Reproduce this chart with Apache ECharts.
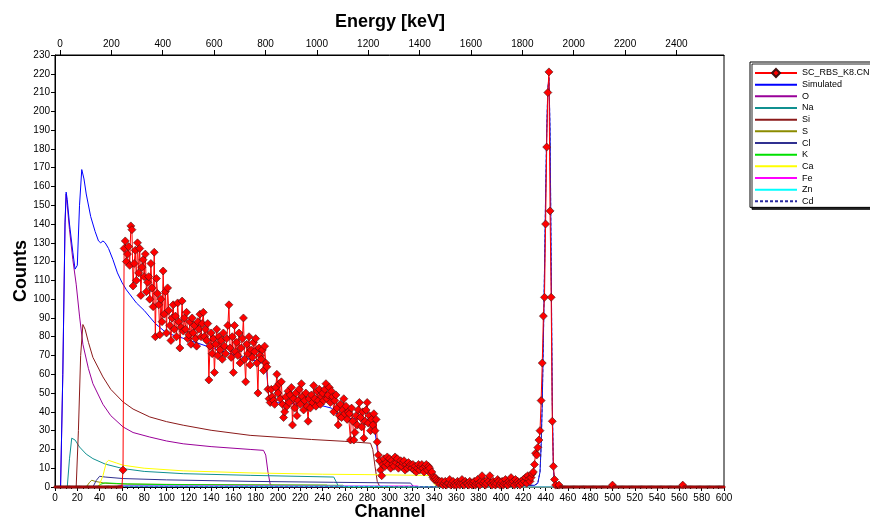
<!DOCTYPE html>
<html>
<head>
<meta charset="utf-8">
<script src="https://cdn.jsdelivr.net/npm/echarts@6/dist/echarts.min.js"></script>
<style>
  html, body { margin: 0; padding: 0; background: #fff; }
  #chart { width: 870px; height: 521px; }
</style>
</head>
<body>
<div id="chart"></div>
<script>
// measured spectrum, one value per channel (0..600)
const rbsCounts = [
  0,0,0,0,0,0,0,0,0,0, 0,0,0,0,0,0,0,0,0,0,
  0,0,0,0,0,0,0,0,0,0, 0,0,0,0,0,0,0,0,0,0,
  0,0,0,0,0,0,0,0,0,0, 0,0,0,0,0,0,0,0,0,0,
  0,9,127,131,120,124,128,118,139,137,          // 60
  107,119,126,110,130,114,127,102,117,121,      // 70
  112,124,104,109,112,100,119,106,96,125,       // 80
  80,111,103,97,81,100,88,115,92,104,           // 90
  82,106,94,86,78,90,97,84,91,80,               // 100
  98,88,74,85,99,83,90,84,93,79,                // 110
  81,88,76,90,82,86,79,75,88,84,                // 120
  92,80,87,93,80,84,78,87,57,75,                // 130
  82,71,79,61,76,84,70,80,73,78,                // 140
  68,82,75,71,79,86,97,74,69,80,                // 150
  61,86,72,77,70,82,66,74,79,90,                // 160
  68,56,76,71,80,65,73,69,77,72,                // 170
  79,66,50,74,70,68,73,62,75,66,                // 180
  64,52,47,45,52,48,46,44,53,60,                // 190
  50,55,47,56,44,37,40,48,43,51,                // 200
  45,49,53,33,47,42,50,38,46,52,                // 210
  44,55,48,41,46,50,43,35,47,42,                // 220
  49,45,54,47,43,51,46,52,44,48,                // 230
  50,46,52,55,47,49,53,45,51,48,                // 240
  40,46,49,42,33,38,44,37,41,47,                // 250
  39,43,36,40,39,25,42,35,25,29,                // 260
  38,33,41,45,37,32,40,26,35,41,                // 270
  45,34,38,30,36,33,39,30,36,24,                // 280
  17,14,9,6,12,15,11,13,16,12,                  // 290
  15,10,14,12,11,16,13,15,10,12,                // 300
  14,11,13,14,9,12,10,13,11,12,                 // 310
  10,12,9,11,8,10,12,9,11,12,                   // 320
  10,8,11,12,9,11,10,7,8,5,                     // 330
  4,5,4,3,2,3,2,3,1,2,                          // 340
  3,1,2,2,4,1,2,3,1,2,                          // 350
  1,3,2,1,2,4,2,1,3,2,                          // 360
  2,1,3,2,1,2,3,1,2,4,                          // 370
  2,1,3,6,2,3,1,2,4,3,                          // 380
  6,2,1,3,2,1,2,4,3,1,                          // 390
  2,3,1,2,4,2,1,3,2,5,                          // 400
  2,3,1,4,2,3,2,1,3,2,                          // 410
  4,3,5,2,6,4,3,5,7,8,                          // 420
  12,18,17,21,25,30,46,66,91,101,               // 430
  140,181,210,221,147,101,35,11,4,1,            // 440
  0,0,1,0,0,0,0,0,0,0,                          // 450
  0,0,0,0,0,0,0,0,0,0, 0,0,0,0,0,0,0,0,0,0,     // 460
  0,0,0,0,0,0,0,0,0,0, 0,0,0,0,0,0,0,0,0,0,     // 480
  1,0,0,0,0,0,0,0,0,0,                          // 500
  0,0,0,0,0,0,0,0,0,0, 0,0,0,0,0,0,0,0,0,0,     // 510
  0,0,0,0,0,0,0,0,0,0, 0,0,0,0,0,0,0,0,0,0,     // 530
  0,0,0,0,0,0,0,0,0,0,                          // 550
  0,0,0,1,0,0,0,0,0,0,                          // 560
  0,0,0,0,0,0,0,0,0,0, 0,0,0,0,0,0,0,0,0,0,     // 570
  0,0,0,0,0,0,0,0,0,0,                          // 590
  0                                             // 600
];

// simulated total and element contributions, [channel, counts]
const simulated = [[0,0],[5,0],[7,60],[9,141],[10,157],[11,153],[13,140],[16,125],[18,116],[19,115],[20,118],
  [22,150],[24,169],[26,164],[28,156],[32,144],[36,136],[39,131],[41,130],[43,131],[45,130],[48,127],[52,121],
  [56,114],[60,109],[64,105],[73,98],[80,94],[90,87],[100,82],[116,79],[146,73],[175,68],[186,66],[189,65],
  [190,61],[191,52],[192,47],[195,45],[210,44.5],[238,43.5],[248,42],[254,38],[262,36.5],[280,36],[285,33.7],
  [287,30],[289,20],[291,15],[293,13.3],[311,13.3],[314,11],[329,10.7],[332,9.8],[338,9.7],[340,5],[342,1.8],
  [345,1],[430,0.9],[433,2],[434,3],[435,8],[436,22],[437,45],[438,78],[439,115],[440,155],[441,190],[442,212],
  [443,218],[444,190],[445,120],[446,45],[447,10],[448,2],[449,0.5],[451,0],[600,0]];
const oxygen = [[0,0],[5,0],[7,60],[9,140],[10,156],[11,150],[13,137],[16,121],[19,108],[22,91],[25,76],[30,63],
  [34,55],[43,44],[50,38],[61,32],[70,29],[85,26.6],[100,24.5],[115,23],[140,21.5],[175,20],[187,19.5],[189,17],
  [191,8],[193,1.5],[196,0],[600,0]];
const sodium = [[0,0],[11,0],[13,15],[15,26],[16,27],[18,25],[22,21.3],[28,17.5],[34,15.1],[45,12.2],[61,9.8],
  [80,8.3],[115,7.1],[175,6.2],[250,5.3],[252,3],[254,0.5],[256,0],[600,0]];
const silicon = [[0,0],[19,0],[21,30],[23,70],[25,86.5],[27,84],[30,77],[34,69],[43,58.6],[50,52],[61,45.3],
  [70,41.5],[85,37.3],[100,34.8],[115,32.9],[140,30.2],[175,27.5],[200,26.5],[230,25.3],[260,24.3],[283,23.3],
  [285,20],[287,11],[289,3],[291,0.5],[293,0],[600,0]];
const sulfur = [[0,0],[28,0],[31,2.5],[33,3.6],[36,3],[45,2],[60,1.6],[120,1.3],[200,1.1],[244,1],[246,0],[600,0]];
const chlorine = [[0,0],[34,0],[37,3.5],[40,5.7],[45,5.3],[61,4.5],[100,3.8],[175,3],[250,2.5],[319,2.1],
  [321,0.5],[323,0],[600,0]];
const potassium = [[0,0],[38,0],[41,1.5],[45,2.2],[55,1.9],[65,1.6],[100,1.3],[180,1],[258,0.9],[260,0],[600,0]];
const calcium = [[0,0],[39,0],[43,6],[46,13],[48,14.2],[55,12.8],[61,11.6],[80,10],[115,8.6],[175,7.5],[240,6.8],
  [278,6.6],[330,6.2],[337,6],[340,2],[342,0],[600,0]];
const iron = [[0,0],[55,0],[58,0.8],[100,0.7],[200,0.6],[325,0.5],[328,0],[600,0]];
const zinc = [[0,0],[58,0],[61,0.5],[150,0.4],[300,0.35],[303,0],[600,0]];
const cadmium = [[0,0],[340,0],[343,0.9],[430,0.9],[433,2],[434,3],[435,8],[436,22],[437,45],[438,78],[439,115],
  [440,155],[441,190],[442,212],[443,218],[444,190],[445,120],[446,45],[447,10],[448,2],[449,0.5],[451,0],[600,0]];

// energy calibration of the top axis
const keVPerChannel = 4.341;
const energyAtZero = -19.5;
const energyTicks = [0, 200, 400, 600, 800, 1000, 1200, 1400, 1600, 1800, 2000, 2200, 2400];

const font = '"Liberation Sans", Arial, sans-serif';
const black = '#000';

const curve = (name, pts, color, extra) => Object.assign({
  name: name,
  type: 'line',
  data: pts,
  symbol: 'none',
  showSymbol: false,
  lineStyle: { color: color, width: 1 },
  itemStyle: { color: color },
  z: 2
}, extra || {});

const curveNames = ['Simulated', 'O', 'Na', 'Si', 'S', 'Cl', 'K', 'Ca', 'Fe', 'Zn', 'Cd'];

const chart = echarts.init(document.getElementById('chart'));
chart.setOption({
  animation: false,
  backgroundColor: '#fff',
  grid: {
    left: 55, right: 146, top: 55, bottom: 34,
    show: true, borderColor: black, borderWidth: 1,
    outerBoundsMode: 'none'
  },
  xAxis: [
    {
      type: 'value', position: 'bottom', min: 0, max: 600, interval: 20,
      axisLine: { lineStyle: { color: black } },
      axisTick: { length: 4, lineStyle: { color: black } },
      minorTick: { show: true, splitNumber: 4, length: 2, lineStyle: { color: black } },
      axisLabel: { color: black, fontSize: 10, fontFamily: font, margin: 6 },
      splitLine: { show: false }
    },
    {
      type: 'value', position: 'top',
      min: energyAtZero, max: energyAtZero + 600 * keVPerChannel,
      axisLine: { lineStyle: { color: black } },
      axisTick: { length: 5, customValues: energyTicks, lineStyle: { color: black } },
      axisLabel: {
        customValues: energyTicks, color: black, fontSize: 10, fontFamily: font, margin: 6,
        formatter: (v) => String(Math.round(v))
      },
      splitLine: { show: false }
    }
  ],
  yAxis: {
    type: 'value', min: 0, max: 230, interval: 10,
    axisLine: { show: true, lineStyle: { color: black } },
    axisTick: { show: true, length: 4, lineStyle: { color: black } },
    axisLabel: { color: black, fontSize: 10, fontFamily: font, margin: 5 },
    splitLine: { show: false }
  },
  legend: {
    orient: 'vertical', left: 750, top: 62,
    itemWidth: 42, itemHeight: 10, itemGap: 1.67,
    padding: [6, 4, 1, 4],
    borderColor: black, borderWidth: 1, backgroundColor: '#fff',
    shadowColor: 'rgba(0,0,0,0.85)', shadowOffsetX: 2, shadowOffsetY: 2, shadowBlur: 0.1,
    selectedMode: false,
    textStyle: { fontSize: 9, fontFamily: font, color: black, lineHeight: 10 },
    data: [{ name: 'SC_RBS_K8.CNF' }].concat(
      curveNames.map((n) => ({ name: n, itemStyle: { opacity: 0 } }))
    )
  },
  graphic: [
    { type: 'text', x: 390, y: 22, style: { text: 'Energy [keV]', fontSize: 18, fontWeight: 'bold', fontFamily: font, fill: black, textAlign: 'center', textVerticalAlign: 'middle' } },
    { type: 'text', x: 390, y: 512, style: { text: 'Channel', fontSize: 18, fontWeight: 'bold', fontFamily: font, fill: black, textAlign: 'center', textVerticalAlign: 'middle' } },
    { type: 'text', x: 21, y: 271, rotation: Math.PI / 2, style: { text: 'Counts', fontSize: 18, fontWeight: 'bold', fontFamily: font, fill: black, textAlign: 'center', textVerticalAlign: 'middle' } }
  ],
  series: [
    {
      name: 'SC_RBS_K8.CNF',
      type: 'line',
      data: rbsCounts.map((c, ch) => [ch, c]),
      symbol: 'diamond',
      symbolSize: (v) => (v[1] > 0 ? 8 : 3),
      showAllSymbol: true,
      lineStyle: { color: '#ff0000', width: 1 },
      itemStyle: { color: '#ff0000', borderColor: '#401010', borderWidth: 0.6 },
      z: 4
    },
    curve('Simulated', simulated, '#0000ff', { z: 3 }),
    curve('O', oxygen, '#990099'),
    curve('Na', sodium, '#109090'),
    curve('Si', silicon, '#8b1a1a'),
    curve('S', sulfur, '#8b8b00'),
    curve('Cl', chlorine, '#303090'),
    curve('K', potassium, '#00e000'),
    curve('Ca', calcium, '#ffff00'),
    curve('Fe', iron, '#ff00ff'),
    curve('Zn', zinc, '#00ffff'),
    curve('Cd', cadmium, '#2a2aa0', { lineStyle: { color: '#2a2aa0', width: 1, type: [3, 2] }, z: 3 })
  ]
});
</script>
</body>
</html>
